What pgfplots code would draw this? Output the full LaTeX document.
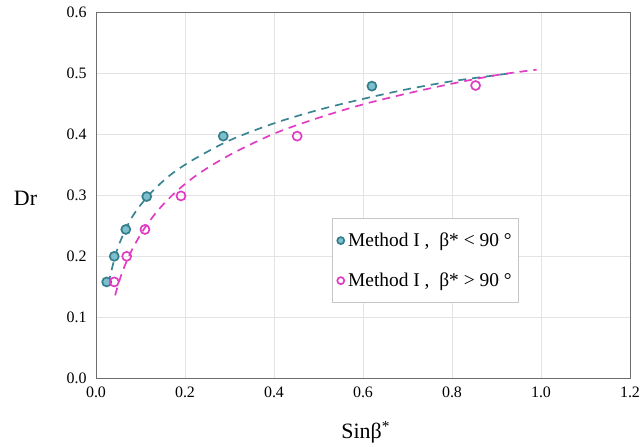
\documentclass[border=0pt]{standalone}
\usepackage{pgfplots}
\pgfplotsset{compat=1.18}
\usepackage{fontspec}
\setmainfont{Liberation Serif}

\definecolor{tealline}{HTML}{3A8592}
\definecolor{tealfill}{HTML}{7DBFCC}
\definecolor{tealedge}{HTML}{357F8C}
\definecolor{magline}{HTML}{E03CC4}
\definecolor{gridgray}{HTML}{E3E3E3}
\definecolor{framegray}{HTML}{6E6E6E}

\begin{document}
\begin{tikzpicture}
\fontsize{16}{19}\selectfont
\useasboundingbox (0,0) rectangle (642bp,447bp);
\begin{axis}[
    at={(96bp,68.7bp)}, anchor=south west,
    scale only axis,
    width=534bp, height=366bp,
    xmin=0, xmax=1.2, ymin=0, ymax=0.6,
    xtick={0,0.2,...,1.2},
    ytick={0,0.1,...,0.6},
    grid=major,
    major grid style={gridgray, line width=0.8pt},
    axis line style={framegray, line width=0.9pt},
    major tick length=0pt,
    tick label style={font=\fontsize{16}{19}\selectfont},
    xticklabel style={yshift=-3bp},
    yticklabel style={xshift=-4bp},
    /pgf/number format/.cd, fixed, fixed zerofill, precision=1, assume math mode=true,
    /pgfplots/.cd,
    xlabel={Sinβ\textsuperscript{*}},
    ylabel={Dr},
    label style={font=\fontsize{22}{26}\selectfont},
    xlabel style={at={(axis description cs:0.505,-0.148)}, anchor=center},
    ylabel style={rotate=-90, at={(axis description cs:-0.132,0.493)}, anchor=center},
    legend style={at={(axis description cs:0.442,0.4375)}, anchor=north west,
        draw=gray!45, line width=0.8pt, fill=white,
        font=\fontsize{19.5}{22}\selectfont,
        row sep=20bp, inner xsep=4bp, inner ysep=12bp,
        nodes={inner xsep=3bp}},
    legend cell align=left,
    legend image code/.code={\draw[#1] (2bp,0bp) circle[radius=3.5bp];},
]
% fitted trend curves (dashed)
\addplot[tealline, line width=1.7pt, dash pattern=on 8bp off 6bp, smooth, forget plot] coordinates {
    (0.028,0.155) (0.03,0.162) (0.04,0.192) (0.05,0.216) (0.065,0.242)
    (0.08,0.263) (0.1,0.284) (0.13,0.309) (0.17,0.335) (0.22,0.359)
    (0.3,0.390) (0.4,0.418) (0.5,0.440) (0.6,0.458) (0.7,0.474)
    (0.8,0.487) (0.9,0.497) (0.94,0.501)
};
\addplot[magline, line width=1.7pt, dash pattern=on 8bp off 6bp, smooth, forget plot] coordinates {
    (0.043,0.136) (0.05,0.154) (0.06,0.176) (0.075,0.202) (0.09,0.223)
    (0.11,0.247) (0.14,0.276) (0.18,0.306) (0.23,0.335) (0.3,0.366)
    (0.4,0.401) (0.5,0.427) (0.6,0.449) (0.7,0.467) (0.8,0.483)
    (0.9,0.497) (0.99,0.506)
};
% data points
\addplot[only marks, mark=*, mark size=4.5bp,
    mark options={fill=tealfill, draw=tealedge, line width=1.7pt},
    draw=tealedge, fill=tealfill, line width=1.7pt] coordinates {
    (0.024,0.158) (0.041,0.200) (0.067,0.244) (0.114,0.298) (0.286,0.397) (0.620,0.479)
};
\addlegendentry{Method I ,\ \ β* < 90 °}
\addplot[only marks, mark=o, mark size=4.5bp,
    mark options={draw=magline, line width=1.7pt, fill=white},
    draw=magline, fill=white, line width=1.7pt] coordinates {
    (0.041,0.158) (0.069,0.200) (0.110,0.244) (0.191,0.299) (0.452,0.397) (0.853,0.480)
};
\addlegendentry{Method I ,\ \ β* > 90 °}
\end{axis}
\end{tikzpicture}
\end{document}
